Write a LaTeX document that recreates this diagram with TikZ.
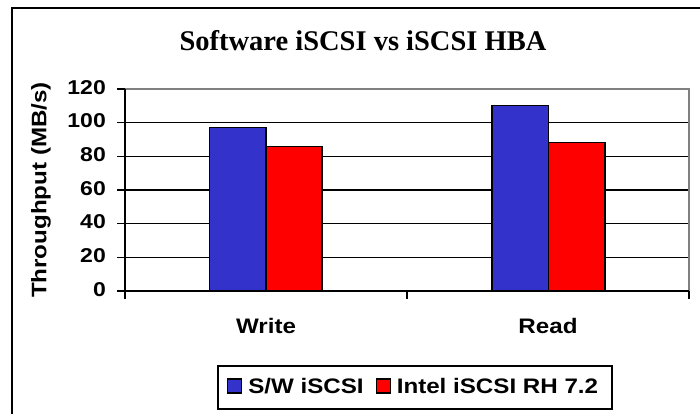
\documentclass[tikz,border=0pt]{standalone}
\usepackage{fontspec}
\setmainfont{Liberation Serif}
\newfontfamily\chartsans[FakeStretch=1.15]{Liberation Sans}
\usetikzlibrary{positioning}
\definecolor{swblue}{RGB}{51,51,204}
\definecolor{hbared}{RGB}{255,0,0}
\definecolor{bordergray}{RGB}{128,128,128}

\begin{document}
\begin{tikzpicture}[
        x=1pt, y=1pt,
        axislabel/.style={font=\chartsans\bfseries\fontsize{21}{21}\selectfont, inner sep=0pt},
        ticklabel/.style={font=\chartsans\bfseries\fontsize{20}{20}\selectfont, anchor=base east, inner sep=0pt},
        gridline/.style={line width=1.1pt},
        axisline/.style={line width=1.3pt},
        swbar/.style={draw=black, line width=1.2pt, fill=swblue},
        hbabar/.style={draw=black, line width=1.2pt, fill=hbared},
        legendkey/.style={draw=black, line width=1.2pt, minimum size=14pt, inner sep=0pt}
    ]
    \useasboundingbox (0,0) rectangle (700,413);
    \clip (0,0) rectangle (700,413);

    % --- Frame and title ---
    \draw[line width=1.6pt] (12,-10) rectangle (710,405);
    \node[anchor=base, inner sep=0pt, font=\bfseries\fontsize{28.5}{30}\selectfont] (title) at (363,362) {Software iSCSI vs iSCSI HBA};

    % --- Plot area (1 unit = 1 MB/s) ---
    \begin{scope}[shift={(125,122)}, y=1.6833pt]
        % Grid
        \foreach \v in {20,40,...,100} {
            \draw[gridline] (0,\v) -- (564,\v);
        }
        \draw[line width=1.2pt, bordergray] (0,120) -- (564,120) -- (564,0);

        % Bars
        \draw[swbar] (84.5,0) rectangle (141,97);
        \draw[hbabar] (141,0) rectangle (197,86);
        \draw[swbar] (367,0) rectangle (423.5,110);
        \draw[hbabar] (423.5,0) rectangle (480,88);

        % Axes and ticks
        \draw[axisline] (0,120) -- (0,-4.8);
        \draw[axisline] (0,0) -- (564,0);
        \foreach \x in {282,564} {
            \draw[axisline] (\x,0) -- (\x,-4.8);
        }
        \foreach \v in {0,20,...,120} {
            \draw[axisline] (-8,\v) -- (0,\v);
            \node[ticklabel] (tick\v) at (-19,\v) [yshift=-5pt] {\v};
        }

        % Categories
        \node[axislabel, anchor=base] (write) at (141,-25.2) {Write};
        \node[axislabel, anchor=base] (read) at (423,-25.2) {Read};
    \end{scope}

    \node[axislabel, rotate=90] (ytitle) at (41,223) {Throughput (MB/s)};

    % --- Legend ---
    \node[draw=black, line width=1.2pt, minimum width=394pt, minimum height=43pt, inner sep=0pt] (legend) at (415,25.5) {};
    \node[legendkey, fill=swblue] (swkey) at (234.5,27) {};
    \node[axislabel, anchor=base west] (swtext) at ([xshift=6pt, yshift=-7pt]swkey.east) {S/W iSCSI};
    \node[legendkey, fill=hbared] (hbakey) at (383.5,27) {};
    \node[axislabel, anchor=base west] (hbatext) at ([xshift=5.5pt, yshift=-7pt]hbakey.east) {Intel iSCSI RH 7.2};
\end{tikzpicture}
\end{document}
